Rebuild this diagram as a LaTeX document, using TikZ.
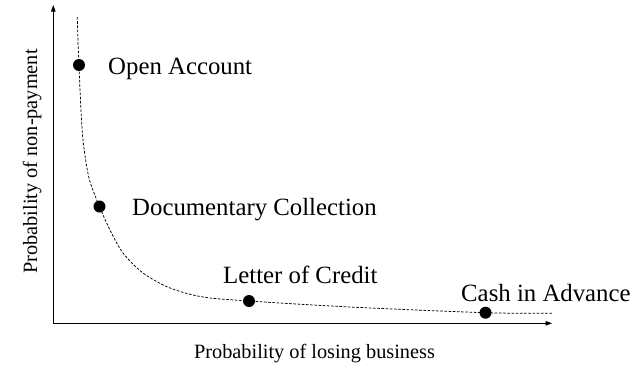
\documentclass[tikz,border=0pt]{standalone}
\usepackage{fontspec}
\setmainfont{Liberation Serif}
\usetikzlibrary{arrows.meta}
\begin{document}
\begin{tikzpicture}[x=1pt,y=-1pt,
  axis/.style={line width=0.9pt,-{Triangle[length=6.5pt,width=4.5pt]}},
  curve/.style={line width=0.75pt,dash pattern=on 2.6pt off 1.6pt},
  dot/.style={circle,fill=black,inner sep=0pt,minimum size=12pt},
  lbl/.style={anchor=base west,inner sep=0pt,font=\fontsize{24.8}{30}\selectfont},
  axlbl/.style={anchor=base,inner sep=0pt,font=\fontsize{20.3}{24}\selectfont}]
\useasboundingbox (0,0) rectangle (637,367);
\coordinate (O) at (53.3,323.3);
\coordinate (ytip) at (53.3,5);
\coordinate (xtip) at (552,323.3);
\draw[axis] (O) -- (ytip);
\draw[axis] (O) -- (xtip);
\draw[curve] plot[smooth,tension=0.5] coordinates {(77.3,17) (78,42) (79,65) (80.5,100) (83,140) (89,178) (99.5,206.5) (110,230) (123,253) (143,273) (170,288) (203,297) (249,301) (350,307) (485,312.7) (553,313.3)};
\node[dot] (oa) at (79,65) {};
\node[dot] (dc) at (99.5,206.5) {};
\node[dot] (lc) at (249,301) {};
\node[dot] (ca) at (485.5,312.7) {};
\node[lbl] (oat) at (108,74) {Open Account};
\node[lbl] (dct) at (132,215) {Documentary Collection};
\node[lbl] (lct) at (223,283) {Letter of Credit};
\node[lbl] (cat) at (461,301) {Cash in Advance};
\node[axlbl] (xl) at (314.5,358) {Probability of losing business};
\node[axlbl,rotate=90] (yl) at (37,161.5) {Probability of non-payment};
\end{tikzpicture}
\end{document}
